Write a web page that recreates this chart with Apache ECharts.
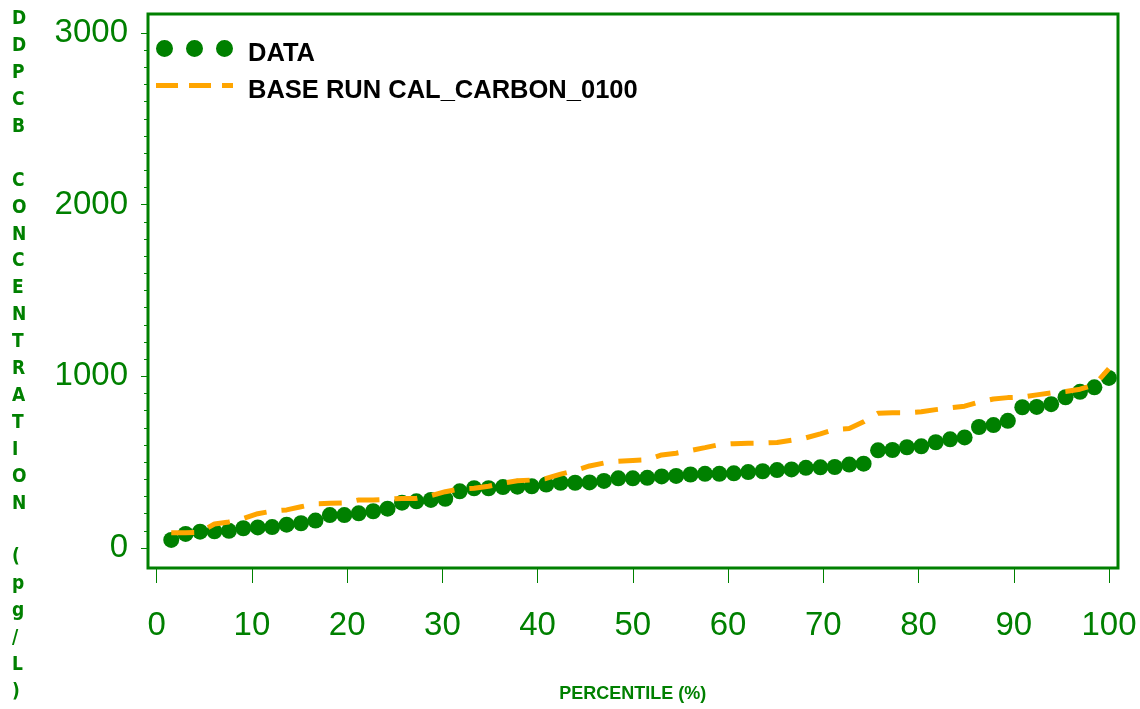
<!DOCTYPE html>
<html>
<head>
<meta charset="utf-8">
<script src="https://cdn.jsdelivr.net/npm/echarts@6/dist/echarts.min.js"></script>
<style>
html, body { margin: 0; padding: 0; background: #fff; }
#main { width: 1140px; height: 709px; }
</style>
</head>
<body>
<div id="main"></div>
<script>
// percentile of each sorted observation
var percentiles = [1.52, 3.03, 4.55, 6.06, 7.58, 9.09, 10.61, 12.12, 13.64, 15.15,
    16.67, 18.18, 19.70, 21.21, 22.73, 24.24, 25.76, 27.27, 28.79, 30.30,
    31.82, 33.33, 34.85, 36.36, 37.88, 39.39, 40.91, 42.42, 43.94, 45.45,
    46.97, 48.48, 50.00, 51.52, 53.03, 54.55, 56.06, 57.58, 59.09, 60.61,
    62.12, 63.64, 65.15, 66.67, 68.18, 69.70, 71.21, 72.73, 74.24, 75.76,
    77.27, 78.79, 80.30, 81.82, 83.33, 84.85, 86.36, 87.88, 89.39, 90.91,
    92.42, 93.94, 95.45, 96.97, 98.48, 100.00];

// observed DDPCB (pg/L)
var dataConc = [47, 82, 95, 97, 100, 115, 120, 122, 136, 144,
    160, 192, 192, 202, 214, 229, 264, 272, 280, 287,
    330, 348, 348, 355, 357, 359, 370, 380, 380, 382,
    391, 406, 406, 409, 417, 420, 428, 432, 432, 435,
    442, 447, 454, 458, 467, 470, 472, 486, 491, 569,
    571, 587, 592, 616, 633, 644, 705, 716, 741, 820,
    822, 838, 878, 910, 936, 991];

// model base run
var baseRun = [89, 89, 92, 140, 152, 172, 200, 215, 222, 240,
    258, 260, 262, 280, 280, 284, 289, 289, 305, 328,
    343, 348, 360, 378, 392, 396, 405, 430, 452, 478,
    495, 505, 510, 514, 542, 552, 568, 585, 602, 608,
    610, 611, 615, 628, 642, 665, 691, 696, 735, 785,
    788, 788, 794, 806, 816, 826, 850, 868, 876, 879,
    892, 904, 912, 925, 950, 1045];

var seriesNames = ['DATA', 'BASE RUN CAL_CARBON_0100'];
var yTitle = 'DDPCB CONCENTRATION (pg/L)';

var green = '#008000';
var orange = '#FFA500';
var sans = '"Liberation Sans", Arial, sans-serif';
var cond = '"DejaVu Sans Condensed", "Liberation Sans", sans-serif';

var myChart = echarts.init(document.getElementById('main'));

function zip(xs, ys) {
    return xs.map(function (x, i) { return [x, ys[i]]; });
}

option = {
    backgroundColor: '#fff',
    animation: false,

    legend: {
        left: 156,
        top: 40,
        padding: 0,
        orient: 'vertical',
        itemGap: 11,
        itemWidth: 77,
        itemHeight: 17,
        selectedMode: false,
        formatter: '{t|{name}}',
        textStyle: {
            rich: {
                t: {
                    color: '#000',
                    fontWeight: 'bold',
                    fontSize: 25.5,
                    fontFamily: sans,
                    padding: [11, 0, 0, 10]
                }
            }
        },
        data: [{
            name: seriesNames[0],
            icon: 'path://M0,8.5A8.5,8.5 0 1,1 17,8.5A8.5,8.5 0 1,1 0,8.5Z' +
                'M30,8.5A8.5,8.5 0 1,1 47,8.5A8.5,8.5 0 1,1 30,8.5Z' +
                'M60,8.5A8.5,8.5 0 1,1 77,8.5A8.5,8.5 0 1,1 60,8.5Z',
            itemStyle: { color: green }
        }, {
            name: seriesNames[1],
            icon: 'path://M0,0H22V5H0Z M33,0H55V5H33Z M66,0H77V5H66Z',
            itemStyle: { color: orange }
        }]
    },

    graphic: [{
        type: 'text',
        left: 12,
        top: 6,
        style: {
            text: yTitle.split('').join('\n'),
            font: 'bold 19px ' + cond,
            fill: green,
            align: 'center',
            lineHeight: 26.9
        }
    }],

    grid: [{
        // plot frame
        left: 148,
        top: 14,
        width: 970,
        height: 554,
        show: true,
        borderColor: green,
        borderWidth: 3,
        outerBoundsMode: 'none'
    }, {
        // x ticks 0..100 below the frame
        left: 156.7,
        right: 31,
        top: 14,
        bottom: 141,
        outerBoundsMode: 'none'
    }, {
        // y ticks 0..3000 left of the frame
        left: 148,
        width: 100,
        top: 33,
        bottom: 161,
        outerBoundsMode: 'none'
    }],

    xAxis: [{
        gridIndex: 0,
        type: 'value',
        min: -0.92,
        max: 100.96,
        show: false
    }, {
        gridIndex: 1,
        type: 'value',
        min: 0,
        max: 100,
        interval: 10,
        position: 'bottom',
        axisLine: { show: false },
        axisTick: { show: true, length: 15, lineStyle: { color: green, width: 1 } },
        splitLine: { show: false },
        axisLabel: {
            color: green,
            fontSize: 33,
            fontFamily: sans,
            margin: 41
        },
        name: 'PERCENTILE (%)',
        nameLocation: 'middle',
        nameGap: 117,
        nameTextStyle: {
            color: green,
            fontSize: 18,
            fontWeight: 'bold',
            fontFamily: sans
        }
    }, {
        gridIndex: 2,
        type: 'value',
        show: false
    }],

    yAxis: [{
        gridIndex: 0,
        type: 'value',
        min: -116.5,
        max: 3110.7,
        show: false
    }, {
        gridIndex: 1,
        type: 'value',
        show: false
    }, {
        gridIndex: 2,
        type: 'value',
        min: 0,
        max: 3000,
        interval: 1000,
        position: 'left',
        axisLine: { show: false },
        axisTick: { show: true, length: 7, lineStyle: { color: green, width: 1 } },
        minorTick: { show: true, splitNumber: 10, length: 4, lineStyle: { color: green, width: 1 } },
        splitLine: { show: false },
        minorSplitLine: { show: false },
        axisLabel: {
            color: green,
            fontSize: 33,
            fontFamily: sans,
            margin: 20,
            formatter: function (v) { return String(v); }
        }
    }],

    series: [{
        name: seriesNames[0],
        type: 'scatter',
        xAxisIndex: 0,
        yAxisIndex: 0,
        symbol: 'circle',
        symbolSize: 16,
        itemStyle: { color: green, opacity: 1 },
        z: 2,
        data: zip(percentiles, dataConc)
    }, {
        name: seriesNames[1],
        type: 'line',
        xAxisIndex: 0,
        yAxisIndex: 0,
        showSymbol: false,
        symbol: 'none',
        lineStyle: { color: orange, width: 5, type: [23, 15] },
        itemStyle: { color: orange },
        z: 3,
        data: zip(percentiles, baseRun)
    }]
};

myChart.setOption(option);
</script>
</body>
</html>
